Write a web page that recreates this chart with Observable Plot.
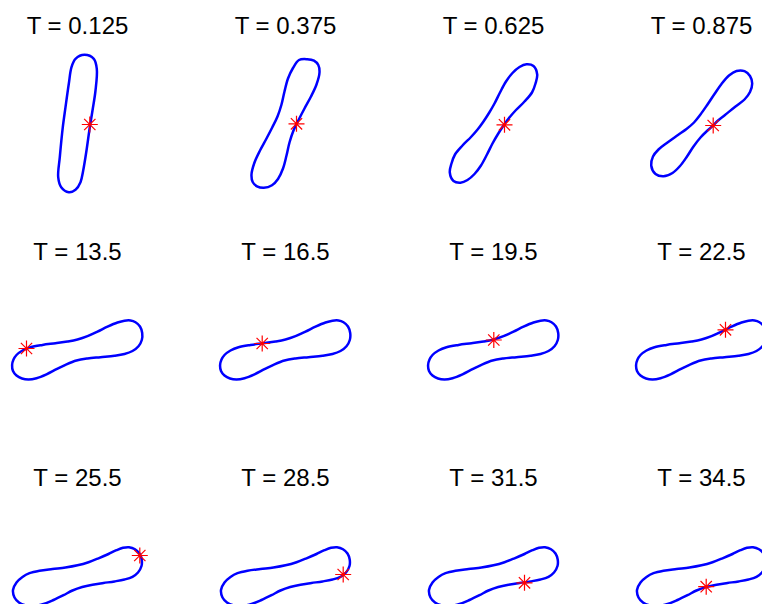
<!DOCTYPE html>
<html><head><meta charset="utf-8">
<script src="https://cdn.jsdelivr.net/npm/d3@7"></script>
<script src="https://cdn.jsdelivr.net/npm/@observablehq/plot@0.6"></script>
<style>body{margin:0;background:#fff;} #chart{width:762px;height:604px;overflow:hidden;}</style>
</head><body><div id="chart"></div>
<script>
// Panel titles (time stamps)
const titles = ["T = 0.125","T = 0.375","T = 0.625","T = 0.875",
                "T = 13.5","T = 16.5","T = 19.5","T = 22.5",
                "T = 25.5","T = 28.5","T = 31.5","T = 34.5"];

// Vesicle contours (x, y), panel-centred units
const shapeT0125 = [[7,68.7],[16.3,64.7],[19.3,54.7],[18,33],[15,13],[12.3,-3.7],[9,-27],[5.7,-47],[3,-58.7],[-2,-66.3],[-8.7,-68.7],[-16.3,-63.7],[-19.3,-53.7],[-17.7,-33.7],[-14.7,-3.7],[-12,16.3],[-8.7,39.7],[-6,56.3],[-2,64.7]];
const shapeT0375 = [[13.5,63.5],[21.7,64.3],[28.5,62.8],[32.8,58.5],[34,51],[31,39],[25.5,27],[19,15],[13.3,4],[8,-7],[4,-19],[1,-32],[-2.5,-45],[-7.5,-55.5],[-13.5,-61.8],[-21.7,-64.3],[-28.5,-62.8],[-32.8,-58.5],[-34,-51],[-31,-39],[-25.5,-27],[-19,-15],[-13.3,-4],[-8,7],[-4,19],[-1,32],[2.5,45],[7.5,55.5]];
const shapeT0625 = [[26,56.5],[33,59.2],[40,57.5],[43.7,49],[42,40],[38.5,31],[31,22],[22.5,13.5],[15.5,5.5],[10,-2],[4.5,-10.5],[-1,-20],[-6.5,-31],[-12.5,-42],[-19,-50.5],[-26,-56.5],[-33,-59.2],[-40,-57.5],[-43.7,-49],[-42,-40],[-38.5,-31],[-31,-22],[-22.5,-13.5],[-15.5,-5.5],[-10,2],[-4.5,10.5],[1,20],[6.5,31],[12.5,42],[19,50.5]];
const shapeT0875 = [[35,52.5],[43,52.3],[48.5,47.5],[50.7,40],[48.5,31.5],[43,24],[34,17],[23.5,8.5],[16,2.5],[11.7,-2],[6,-7],[-1,-14],[-8,-23],[-14.5,-33],[-21.5,-42.5],[-29,-49.5],[-38,-52.8],[-46,-50.5],[-50.3,-42],[-48.5,-33],[-43,-26],[-34,-19],[-23.5,-11.5],[-15,-5.5],[-7.5,1],[-1,9],[6,19],[13,29.5],[20,39.5],[27.5,48]];
const shapeMid = [[-61,-5.5],[-55,-1],[-47,2.3],[-35,4.6],[-22,6.3],[-10,8],[0,10],[10,13.3],[20,17.8],[30,22.8],[40,27],[47,28.8],[53,29],[58,27.3],[62.5,23],[64.7,16.5],[64.3,9.5],[61,3.3],[55,-1.5],[47,-4.5],[37,-6.3],[23,-7.7],[10,-9],[-1,-11],[-11,-14.8],[-21,-19.7],[-31,-24.8],[-41,-28.7],[-49,-30],[-55.5,-29],[-61,-26],[-64.5,-21.5],[-65.4,-15.5],[-64,-10]];
const shapeLate = [[-61,-7],[-55,-1.5],[-48,2.3],[-38,4.8],[-25,6.5],[-12,8],[0,10.2],[11,13.3],[21,17.2],[31,21.5],[39,25.3],[45.5,27.7],[51.5,28.3],[57.5,26.3],[62,22],[64.2,16],[64,9.5],[60.5,3],[55,-1.3],[47,-4],[37,-5.9],[26,-7.5],[15,-9.2],[4.7,-11.5],[-5,-15],[-14,-19.7],[-24,-24.5],[-34,-28.5],[-44,-30.5],[-52,-29.8],[-58.5,-27],[-63,-22],[-64.5,-14.5]];
const panelShapes = [shapeT0125, shapeT0375, shapeT0625, shapeT0875,
                     shapeMid, shapeMid, shapeMid, shapeMid,
                     shapeLate, shapeLate, shapeLate, shapeLate];

// Tracked membrane point (red asterisk)
const markerX = [12.3, 11, 11, 11.7, -51, -23.3, 0.3, 24, 62.3, 57.7, 31, 4.7];
const markerY = [-1, -0.3, -1.3, -2, 1.0, 6.0, 9.5, 19.7, 20, 1, -7.3, -11.2];

// Build tables
const points = [];
panelShapes.forEach((shape, i) => {
  shape.forEach(([x, y]) => points.push({panel: i, col: i % 4, row: Math.floor(i / 4), x, y}));
});
const labels = titles.map((t, i) => ({col: i % 4, row: Math.floor(i / 4), t}));
const markers = markerX.map((x, i) => ({col: i % 4, row: Math.floor(i / 4), x, y: markerY[i]}));

const asterisk8 = {
  draw(ctx, size) {
    const r = Math.sqrt(size / Math.PI);
    const d = r * Math.SQRT1_2;
    ctx.moveTo(-r, 0); ctx.lineTo(r, 0);
    ctx.moveTo(0, -r); ctx.lineTo(0, r);
    ctx.moveTo(-d, -d); ctx.lineTo(d, d);
    ctx.moveTo(-d, d); ctx.lineTo(d, -d);
  }
};

const chart = Plot.plot({
  width: 762, height: 604,
  marginTop: 0, marginRight: 0, marginBottom: 0, marginLeft: 0,
  style: {fontFamily: "'Liberation Sans', Arial, Helvetica, sans-serif", background: "white", overflow: "hidden"},
  fx: {domain: [0, 1, 2, 3], range: [-27, 805], padding: 0, axis: null, round: false},
  fy: {domain: [0, 1, 2], range: [10, 688], padding: 0, axis: null, round: false},
  x: {domain: [-104, 104], axis: null},
  y: {domain: [-113, 113], axis: null},
  marks: [
    Plot.line(points, {x: "x", y: "y", z: "panel", fx: "col", fy: "row", curve: "catmull-rom-closed", stroke: "#0000ff", strokeWidth: 2.5}),
    Plot.dot(markers, {x: "x", y: "y", fx: "col", fy: "row", symbol: asterisk8, r: 8, stroke: "#ff0000", strokeWidth: 1.2}),
    Plot.text(labels, {fx: "col", fy: "row", text: "t", frameAnchor: "top", lineAnchor: "middle", dy: 16, fontSize: 24, fill: "black"})
  ]
});
document.getElementById("chart").appendChild(chart);
</script>
</body></html>
